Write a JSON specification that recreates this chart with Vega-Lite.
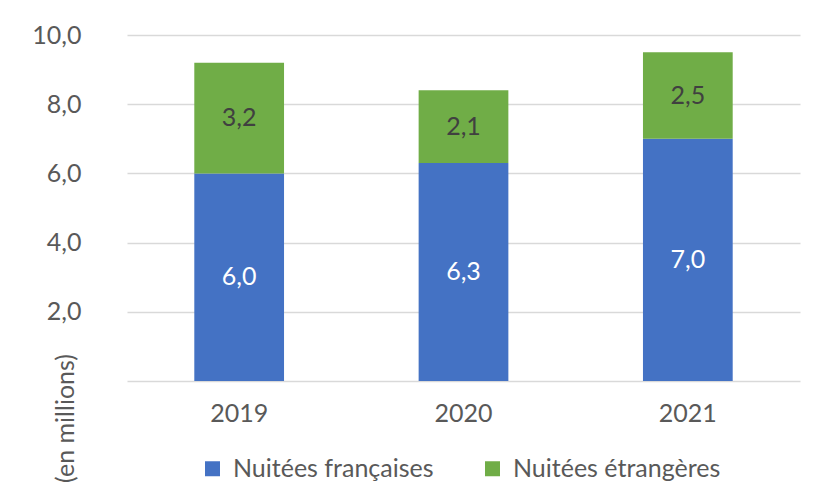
{
  "$schema": "https://vega.github.io/schema/vega-lite/v6.json",
  "width": 673,
  "height": 346,
  "autosize": "none",
  "padding": {"left": 127, "top": 35, "right": 15, "bottom": 121},
  "background": "white",
  "config": {
    "locale": {"number": {"decimal": ",", "thousands": " ", "grouping": [3], "currency": ["", " €"]}},
    "font": "Lato",
    "view": {"stroke": null}
  },
  "data": {
    "values": [
      {"annee": "2019", "type": "Nuitées françaises", "rang": 1, "valeur": 6.0},
      {"annee": "2019", "type": "Nuitées étrangères", "rang": 2, "valeur": 3.2},
      {"annee": "2020", "type": "Nuitées françaises", "rang": 1, "valeur": 6.3},
      {"annee": "2020", "type": "Nuitées étrangères", "rang": 2, "valeur": 2.1},
      {"annee": "2021", "type": "Nuitées françaises", "rang": 1, "valeur": 7.0},
      {"annee": "2021", "type": "Nuitées étrangères", "rang": 2, "valeur": 2.5}
    ]
  },
  "transform": [
    {"stack": "valeur", "groupby": ["annee"], "sort": [{"field": "rang", "order": "ascending"}], "as": ["v0", "v1"]},
    {"calculate": "(datum.v0 + datum.v1) / 2", "as": "vmid"}
  ],
  "encoding": {
    "x": {
      "field": "annee", "type": "nominal", "title": null,
      "scale": {"paddingInner": 0.6, "paddingOuter": 0.3},
      "axis": {"labelAngle": 0, "labelFontSize": 25, "labelColor": "#595959", "labelPadding": 20, "ticks": false, "domainColor": "#d9d9d9", "domainWidth": 1.3}
    }
  },
  "layer": [
    {
      "mark": {"type": "bar"},
      "encoding": {
        "y": {
          "field": "v0", "type": "quantitative",
          "scale": {"domain": [0, 10]},
          "title": "(en millions)",
          "axis": {
            "values": [2, 4, 6, 8, 10], "format": ".1f", "labelFontSize": 25, "labelColor": "#595959",
            "labelPadding": 46, "ticks": false, "domain": false, "gridColor": "#d9d9d9", "gridWidth": 1.3,
            "titleFontSize": 25, "titleFontWeight": "normal", "titleColor": "#595959",
            "titleX": -62, "titleY": 383, "titleAngle": 270, "titleAlign": "center", "titleBaseline": "middle"
          }
        },
        "y2": {"field": "v1"},
        "color": {
          "field": "type", "type": "nominal",
          "scale": {"domain": ["Nuitées françaises", "Nuitées étrangères"], "range": ["#4472C4", "#70AD47"]},
          "legend": {
            "title": null, "orient": "none", "direction": "horizontal", "legendX": 73, "legendY": 421,
            "symbolType": "square", "symbolSize": 225, "symbolStrokeWidth": 0, "labelFontSize": 25, "labelColor": "#595959",
            "columnPadding": 46, "labelOffset": 8, "labelLimit": 400
          }
        }
      }
    },
    {
      "mark": {"type": "text", "fontSize": 25, "baseline": "middle", "align": "center"},
      "encoding": {
        "y": {"field": "vmid", "type": "quantitative"},
        "text": {"field": "valeur", "type": "quantitative", "format": ".1f"},
        "color": {
          "condition": {"test": "datum.rang === 1", "value": "#ffffff"},
          "value": "#404040"
        }
      }
    }
  ]
}
